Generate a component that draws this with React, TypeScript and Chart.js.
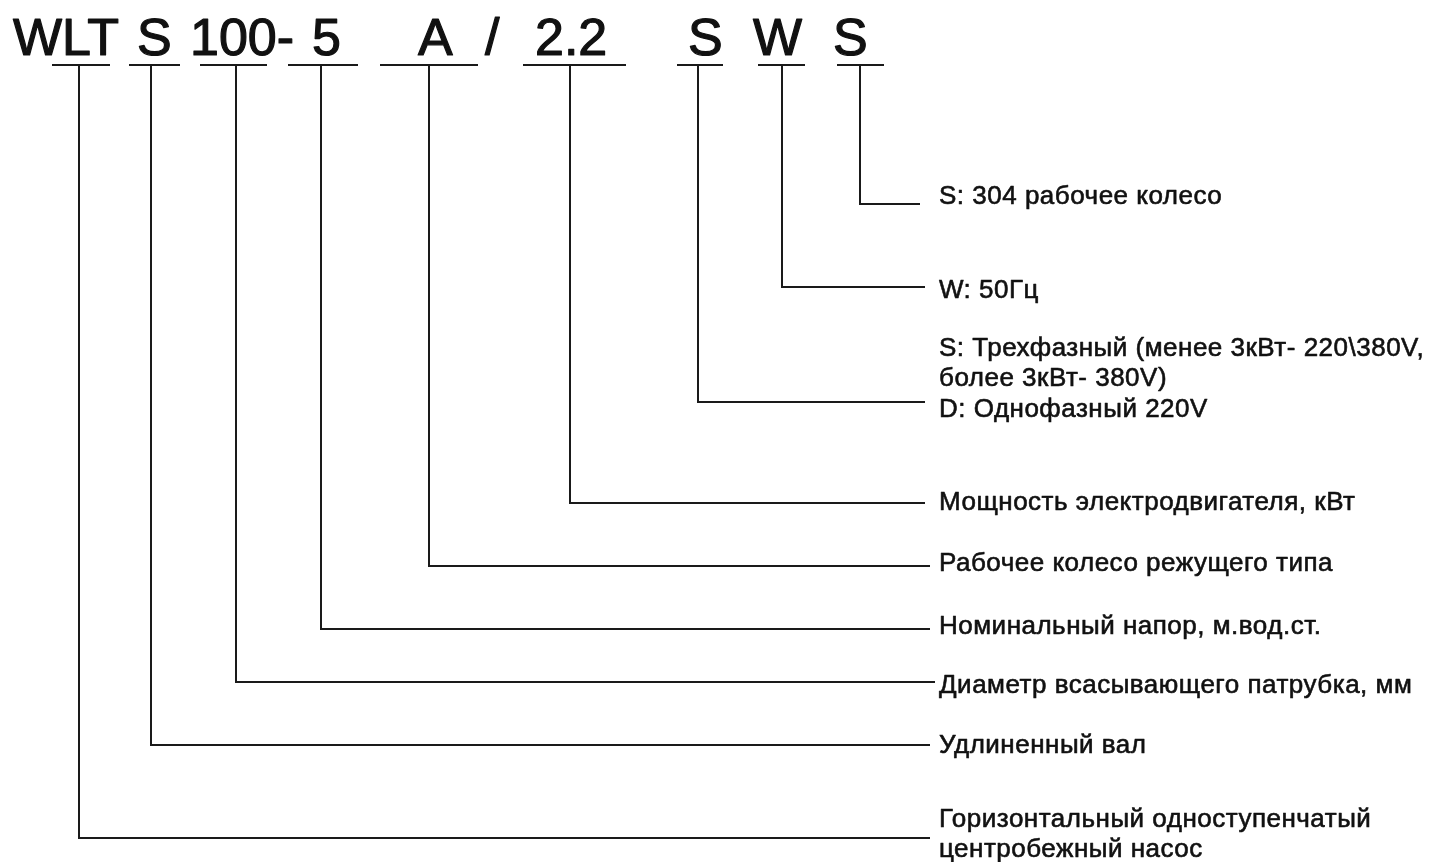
import React, { useEffect, useRef } from "react";
import { Chart, registerables } from "chart.js";

Chart.register(...registerables);

// Model code tokens (top line) and their left x in diagram units
const codeTokens = ["WLT", "S", "100-", "5", "A", "/", "2.2", "S", "W", "S"];
const codeTokenX = [13, 137, 190, 312, 418, 485, 535, 688, 753, 833];
const codeBaselineY = 55;

// Underline segments under each code part
const underlineStart = [52, 129, 200, 288, 380, 523, 677, 758, 837];
const underlineEnd = [110, 180, 267, 358, 478, 626, 723, 805, 884];
const underlineY = 65;

// Leader lines: stem x, elbow y, end x
const stemX = [79, 151, 236, 321, 429, 570, 698, 782, 860];
const leaderY = [838, 745, 682, 629, 566, 503, 402, 287, 204];
const leaderEndX = [930, 930, 935, 930, 930, 925, 925, 925, 920];

// Explanations
const labelLines = [
  ["Горизонтальный одноступенчатый", "центробежный насос"],
  ["Удлиненный вал"],
  ["Диаметр всасывающего патрубка, мм"],
  ["Номинальный напор, м.вод.ст."],
  ["Рабочее колесо режущего типа"],
  ["Мощность электродвигателя, кВт"],
  ["S: Трехфазный (менее 3кВт- 220\\380V,", "более 3кВт- 380V)", "D: Однофазный 220V"],
  ["W: 50Гц"],
  ["S: 304 рабочее колесо"],
];
const labelY = [[820, 850], [746], [686], [627], [564], [503], [349, 379, 410], [291], [197]];
const labelX = 939;

const W = 1429;
const H = 862;

export default function App() {
  const ref = useRef<HTMLCanvasElement | null>(null);

  useEffect(() => {
    if (!ref.current) return;
    const lineColor = "#1a1a1a";
    const datasets: any[] = [];
    underlineStart.forEach((s, i) => {
      datasets.push({
        data: [
          { x: s, y: underlineY },
          { x: underlineEnd[i], y: underlineY },
        ],
        showLine: true,
        pointRadius: 0,
        borderColor: lineColor,
        borderWidth: 2,
      });
    });
    stemX.forEach((sx, i) => {
      datasets.push({
        data: [
          { x: sx, y: underlineY },
          { x: sx, y: leaderY[i] },
          { x: leaderEndX[i], y: leaderY[i] },
        ],
        showLine: true,
        pointRadius: 0,
        borderColor: lineColor,
        borderWidth: 2,
        borderJoinStyle: "miter",
      });
    });

    const textPlugin = {
      id: "texts",
      afterDatasetsDraw(chart: any) {
        const ctx = chart.ctx;
        const xs = chart.scales.x;
        const ys = chart.scales.y;
        ctx.save();
        ctx.fillStyle = "#111";
        ctx.strokeStyle = "#111";
        ctx.lineJoin = "round";
        ctx.textAlign = "left";
        ctx.textBaseline = "alphabetic";
        ctx.font = "52px 'Liberation Sans', Arial, sans-serif";
        ctx.lineWidth = 1.2;
        codeTokens.forEach((t, i) => {
          const px = xs.getPixelForValue(codeTokenX[i]);
          const py = ys.getPixelForValue(codeBaselineY);
          ctx.fillText(t, px, py);
          ctx.strokeText(t, px, py);
        });
        ctx.textBaseline = "middle";
        ctx.font = "26px 'Liberation Sans', Arial, sans-serif";
        (ctx as any).letterSpacing = "0.5px";
        ctx.lineWidth = 0.6;
        labelLines.forEach((lines, i) => {
          lines.forEach((l, j) => {
            const px = xs.getPixelForValue(labelX);
            const py = ys.getPixelForValue(labelY[i][j]);
            ctx.fillText(l, px, py);
            ctx.strokeText(l, px, py);
          });
        });
        ctx.restore();
      },
    };

    const chart = new Chart(ref.current, {
      type: "scatter",
      data: { datasets },
      options: {
        animation: false,
        responsive: true,
        maintainAspectRatio: false,
        layout: { padding: 0 },
        plugins: { legend: { display: false }, tooltip: { enabled: false } },
        scales: {
          x: { type: "linear", min: 0, max: W, display: false },
          y: { type: "linear", min: 0, max: H, reverse: true, display: false },
        },
        elements: { line: { tension: 0 } },
      },
      plugins: [textPlugin],
    });
    return () => chart.destroy();
  }, []);

  return (
    <div style={{ position: "fixed", left: 0, top: 0, width: W, height: H, background: "#fff" }}>
      <canvas ref={ref} />
    </div>
  );
}
